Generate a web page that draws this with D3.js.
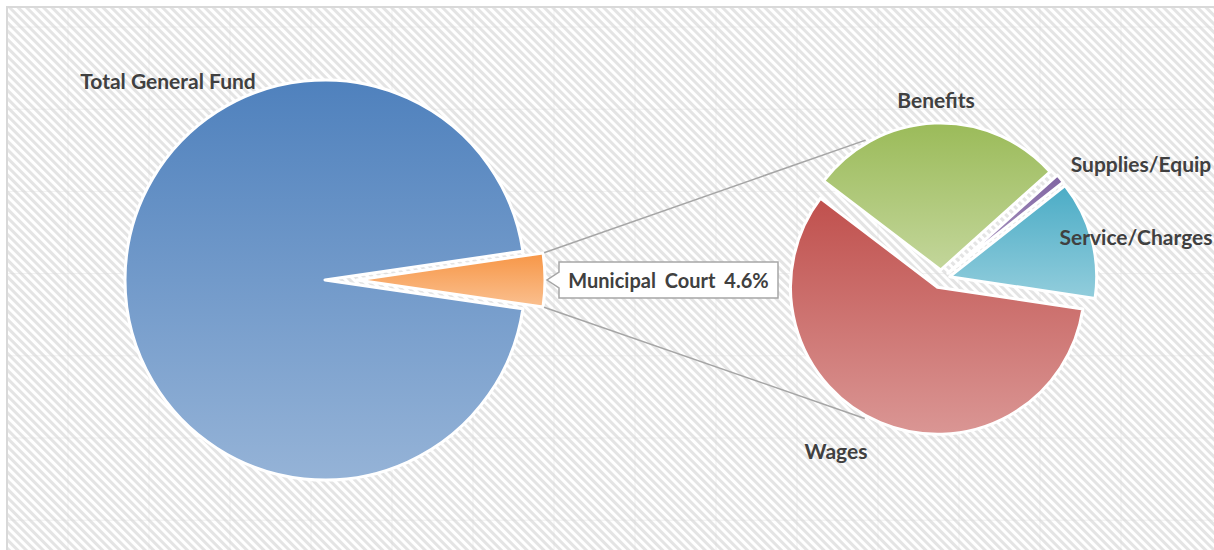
<!DOCTYPE html>
<html lang="en">
<head>
<meta charset="utf-8">
<title>Municipal Court - Pie of Pie</title>
<script src="https://d3js.org/d3.v7.min.js"></script>
<style>
  html, body { margin: 0; padding: 0; background: #fff; }
  svg { display: block; }
  .lbl { font-family: Lato, "Open Sans", sans-serif; font-weight: 700; fill: #404040; }
</style>
</head>
<body>
<svg id="chart" width="1214" height="550"></svg>
<script>
// ---- data ----
var mainLabels = ['Total General Fund', 'Municipal Court'];
var mainValues = [95.4, 4.6];

var subLabels = ['Wages', 'Benefits', 'Supplies/Equip', 'Service/Charges'];
var subValues = [58.0, 28.0, 1.0, 13.0];

// ---- layout ----
var W = 1214, H = 550;
var mainC = [325, 280], mainR = 200, mainExplode = 32, courtR = 188;
var subC = [941, 279], subR = 147, subExplode = 9;

var colors = {
  'Total General Fund': ['#4F81BD', '#95B3D7'],
  'Municipal Court': ['#F79646', '#FAC090'],
  'Wages': ['#C0504D', '#DA9694'],
  'Benefits': ['#9BBB59', '#C3D69B'],
  'Supplies/Equip': ['#8064A2', '#B2A1C7'],
  'Service/Charges': ['#4BACC6', '#92CDDC']
};

var labelPos = {
  'Total General Fund': [168, 80],
  'Benefits': [936, 99],
  'Supplies/Equip': [1141, 163],
  'Service/Charges': [1136, 236],
  'Wages': [836, 450]
};

var svg = d3.select('#chart');
var defs = svg.append('defs');

// background stripes
var pat = defs.append('pattern')
  .attr('id', 'stripes')
  .attr('patternUnits', 'userSpaceOnUse')
  .attr('width', 6).attr('height', 6)
  .attr('patternTransform', 'rotate(-45)');
pat.append('rect').attr('width', 6).attr('height', 6).attr('fill', '#ffffff');
pat.append('rect').attr('width', 3).attr('height', 6).attr('fill', '#e4e4e4');

svg.append('rect').attr('width', W).attr('height', H).attr('fill', '#fff');
svg.append('rect').attr('x', 7).attr('y', 7).attr('width', W).attr('height', H)
  .attr('fill', 'url(#stripes)');

// faint worksheet cells showing through
var gx = d3.range(68, W - 20, 81), gy = d3.range(27, H, 82.2);
svg.append('g').selectAll('line.v').data(gx).enter().append('line')
  .attr('x1', function(d) { return d; }).attr('x2', function(d) { return d; })
  .attr('y1', 8).attr('y2', H)
  .attr('stroke', '#d8d8d8').attr('stroke-opacity', 0.35);
svg.append('g').selectAll('line.h').data(gy).enter().append('line')
  .attr('y1', function(d) { return d; }).attr('y2', function(d) { return d; })
  .attr('x1', 8).attr('x2', W)
  .attr('stroke', '#d8d8d8').attr('stroke-opacity', 0.35);

// chart border
svg.append('path').attr('d', 'M7,' + H + ' V7 H' + W)
  .attr('fill', 'none').attr('stroke', '#d9d9d9').attr('stroke-width', 2);

// gradients
Object.keys(colors).forEach(function(k, i) {
  var g = defs.append('linearGradient').attr('id', 'grad' + i)
    .attr('x1', 0).attr('y1', 0).attr('x2', 0).attr('y2', 1);
  g.append('stop').attr('offset', '0%').attr('stop-color', colors[k][0]);
  g.append('stop').attr('offset', '100%').attr('stop-color', colors[k][1]);
  colors[k].id = 'grad' + i;
});

// ---- main pie ----
var courtHalf = Math.PI * mainValues[1] / 100;
var mainPie = d3.pie().sort(null)
  .startAngle(Math.PI / 2 + courtHalf)
  .endAngle(Math.PI / 2 + courtHalf + 2 * Math.PI);
var mainArcs = mainPie(mainValues);

function offsetOf(d, dist) {
  var a = (d.startAngle + d.endAngle) / 2;
  return [Math.sin(a) * dist, -Math.cos(a) * dist];
}

var gMain = svg.append('g').attr('transform', 'translate(' + mainC + ')');
gMain.selectAll('path').data(mainArcs).enter().append('path')
  .attr('d', function(d, i) {
    return d3.arc().innerRadius(0).outerRadius(i === 1 ? courtR : mainR)(d);
  })
  .attr('transform', function(d, i) {
    return i === 1 ? 'translate(' + offsetOf(d, mainExplode) + ')' : null;
  })
  .attr('fill', function(d, i) { return 'url(#' + colors[mainLabels[i]].id + ')'; })
  .attr('stroke', '#fff').attr('stroke-width', 3).attr('stroke-linejoin', 'round');

// ---- secondary pie ----
var subPie = d3.pie().sort(null)
  .startAngle(98.5 * Math.PI / 180)
  .endAngle(98.5 * Math.PI / 180 + 2 * Math.PI);
var subArcs = subPie(subValues);
var subArc = d3.arc().innerRadius(0).outerRadius(subR);

var gSub = svg.append('g').attr('transform', 'translate(' + subC + ')');
gSub.selectAll('path').data(subArcs).enter().append('path')
  .attr('d', subArc)
  .attr('transform', function(d) { return 'translate(' + offsetOf(d, subExplode) + ')'; })
  .attr('fill', function(d, i) { return 'url(#' + colors[subLabels[i]].id + ')'; })
  .attr('stroke', '#fff').attr('stroke-width', 3).attr('stroke-linejoin', 'round');

// ---- connector lines ----
var court = mainArcs[1];
var cOff = offsetOf(court, mainExplode);
function courtCorner(a) {
  return [mainC[0] + cOff[0] + Math.sin(a) * (courtR + 1), mainC[1] + cOff[1] - Math.cos(a) * (courtR + 1)];
}
function subPoint(idx, deg) {
  var o = offsetOf(subArcs[idx], subExplode);
  var a = deg * Math.PI / 180;
  return [subC[0] + o[0] + Math.cos(a) * (subR + 3), subC[1] + o[1] + Math.sin(a) * (subR + 3)];
}
var connectors = [
  [courtCorner(court.startAngle), subPoint(1, 240)],
  [courtCorner(court.endAngle), subPoint(0, 119)]
];
svg.append('g').selectAll('line').data(connectors).enter().append('line')
  .attr('x1', function(d) { return d[0][0]; }).attr('y1', function(d) { return d[0][1]; })
  .attr('x2', function(d) { return d[1][0]; }).attr('y2', function(d) { return d[1][1]; })
  .attr('stroke', '#a6a6a6').attr('stroke-width', 1.5);

// ---- labels ----
var lblData = [mainLabels[0]].concat(subLabels);
svg.append('g').selectAll('text').data(lblData).enter().append('text')
  .attr('class', 'lbl')
  .attr('x', function(d) { return labelPos[d][0]; })
  .attr('y', function(d) { return labelPos[d][1]; })
  .attr('text-anchor', 'middle')
  .attr('dominant-baseline', 'central')
  .style('font-size', '21px')
  .text(function(d) { return d; });

// ---- callout for Municipal Court ----
var bx = 559, by = 262, bw = 219, bh = 36, tip = [547, 280];
var callout = svg.append('g');
callout.append('path')
  .attr('d', 'M' + bx + ',' + by + ' H' + (bx + bw) + ' V' + (by + bh) + ' H' + bx +
    ' V' + (tip[1] + 8) + ' L' + tip[0] + ',' + tip[1] + ' L' + bx + ',' + (tip[1] - 8) + ' Z')
  .attr('fill', '#fff').attr('stroke', '#a6a6a6').attr('stroke-width', 1.5);
callout.append('text')
  .attr('class', 'lbl')
  .attr('x', bx + bw / 2).attr('y', by + bh / 2)
  .attr('text-anchor', 'middle').attr('dominant-baseline', 'central')
  .style('font-size', '20px').style('word-spacing', '4px')
  .text(mainLabels[1] + ' ' + d3.format('.1f')(mainValues[1]) + '%');
</script>
</body>
</html>
